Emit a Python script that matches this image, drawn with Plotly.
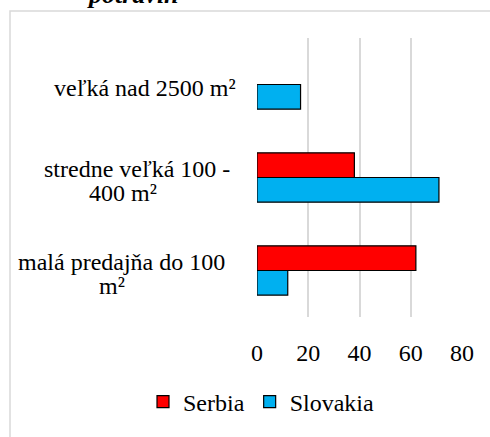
import plotly.graph_objects as go

# Store sizes (bottom to top on the axis)
categories = ["malá predajňa do 100 m²", "stredne veľká 100 - 400 m²", "veľká nad 2500 m²"]
# wrapped label lines for each category
label_lines = [["malá predajňa do 100", "m²"], ["stredne veľká 100 -", "400 m²"], ["veľká nad 2500 m²"]]
serbia = [62, 38, None]
slovakia = [12, 71, 17]
x_ticks = [0, 20, 40, 60, 80]

FONT = "Liberation Serif"
FS = 24
W, H = 490, 437
L, R, T, B = 257, 28, 38, 109
PW, PH = W - L - R, H - T - B


def px(x):
    return (x - L) / PW


def py(y):
    return (H - B - y) / PH


fig = go.Figure()
fig.add_trace(go.Bar(
    y=categories, x=slovakia, name="Slovakia", orientation="h",
    marker=dict(color="#00B0F0", line=dict(color="black", width=1.2)),
))
fig.add_trace(go.Bar(
    y=categories, x=serbia, name="Serbia", orientation="h",
    marker=dict(color="#FF0000", line=dict(color="black", width=1.2)),
))

# category labels: each wrapped line centred like a word-wrapped axis label
line_centers = [[121.5, 111.5], [136.5, 122.5], [145.0]]
for cat, lines, centers in zip(categories, label_lines, line_centers):
    n = len(lines)
    for i, (txt, cx) in enumerate(zip(lines, centers)):
        shift = -3 - (i - (n - 1) / 2) * 24
        fig.add_annotation(
            text=txt, xref="paper", yref="y", x=px(cx), y=cat,
            xanchor="center", yanchor="middle", yshift=shift,
            showarrow=False, font=dict(family=FONT, size=FS, color="black"),
        )

# chart title, mostly above the visible area
fig.add_annotation(
    text="<b><i>potravín</i></b>", xref="paper", yref="paper",
    x=px(85), y=py(10), xanchor="left", yanchor="bottom", showarrow=False,
    font=dict(family=FONT, size=26, color="black"),
)

fig.update_layout(
    template="none",
    width=W, height=H,
    margin=dict(l=L, r=R, t=T, b=B, pad=0),
    paper_bgcolor="white", plot_bgcolor="white",
    barmode="group", bargap=0.47, bargroupgap=0,
    font=dict(family=FONT, size=FS, color="black"),
    xaxis=dict(
        range=[0, 80], tickvals=x_ticks, ticktext=[str(v) for v in x_ticks],
        showgrid=True, gridcolor="#d9d9d9", gridwidth=1.5,
        zeroline=False, showline=False, ticks="", ticklabelstandoff=19,
        tickfont=dict(family=FONT, size=FS, color="black"),
        fixedrange=True,
    ),
    yaxis=dict(
        showticklabels=False, showgrid=False, zeroline=False, showline=False,
        ticks="", fixedrange=True,
    ),
    legend=dict(
        orientation="h", traceorder="reversed",
        x=px(143), y=py(393), xanchor="left", yanchor="top",
        font=dict(family=FONT, size=FS, color="black"),
        itemwidth=30, tracegroupgap=0,
    ),
)
fig.add_shape(
    type="rect", xref="paper", yref="paper",
    x0=px(10), x1=px(520), y0=py(470), y1=py(10),
    line=dict(color="#d9d9d9", width=1.5), layer="below",
)

fig.write_html("out.html")
